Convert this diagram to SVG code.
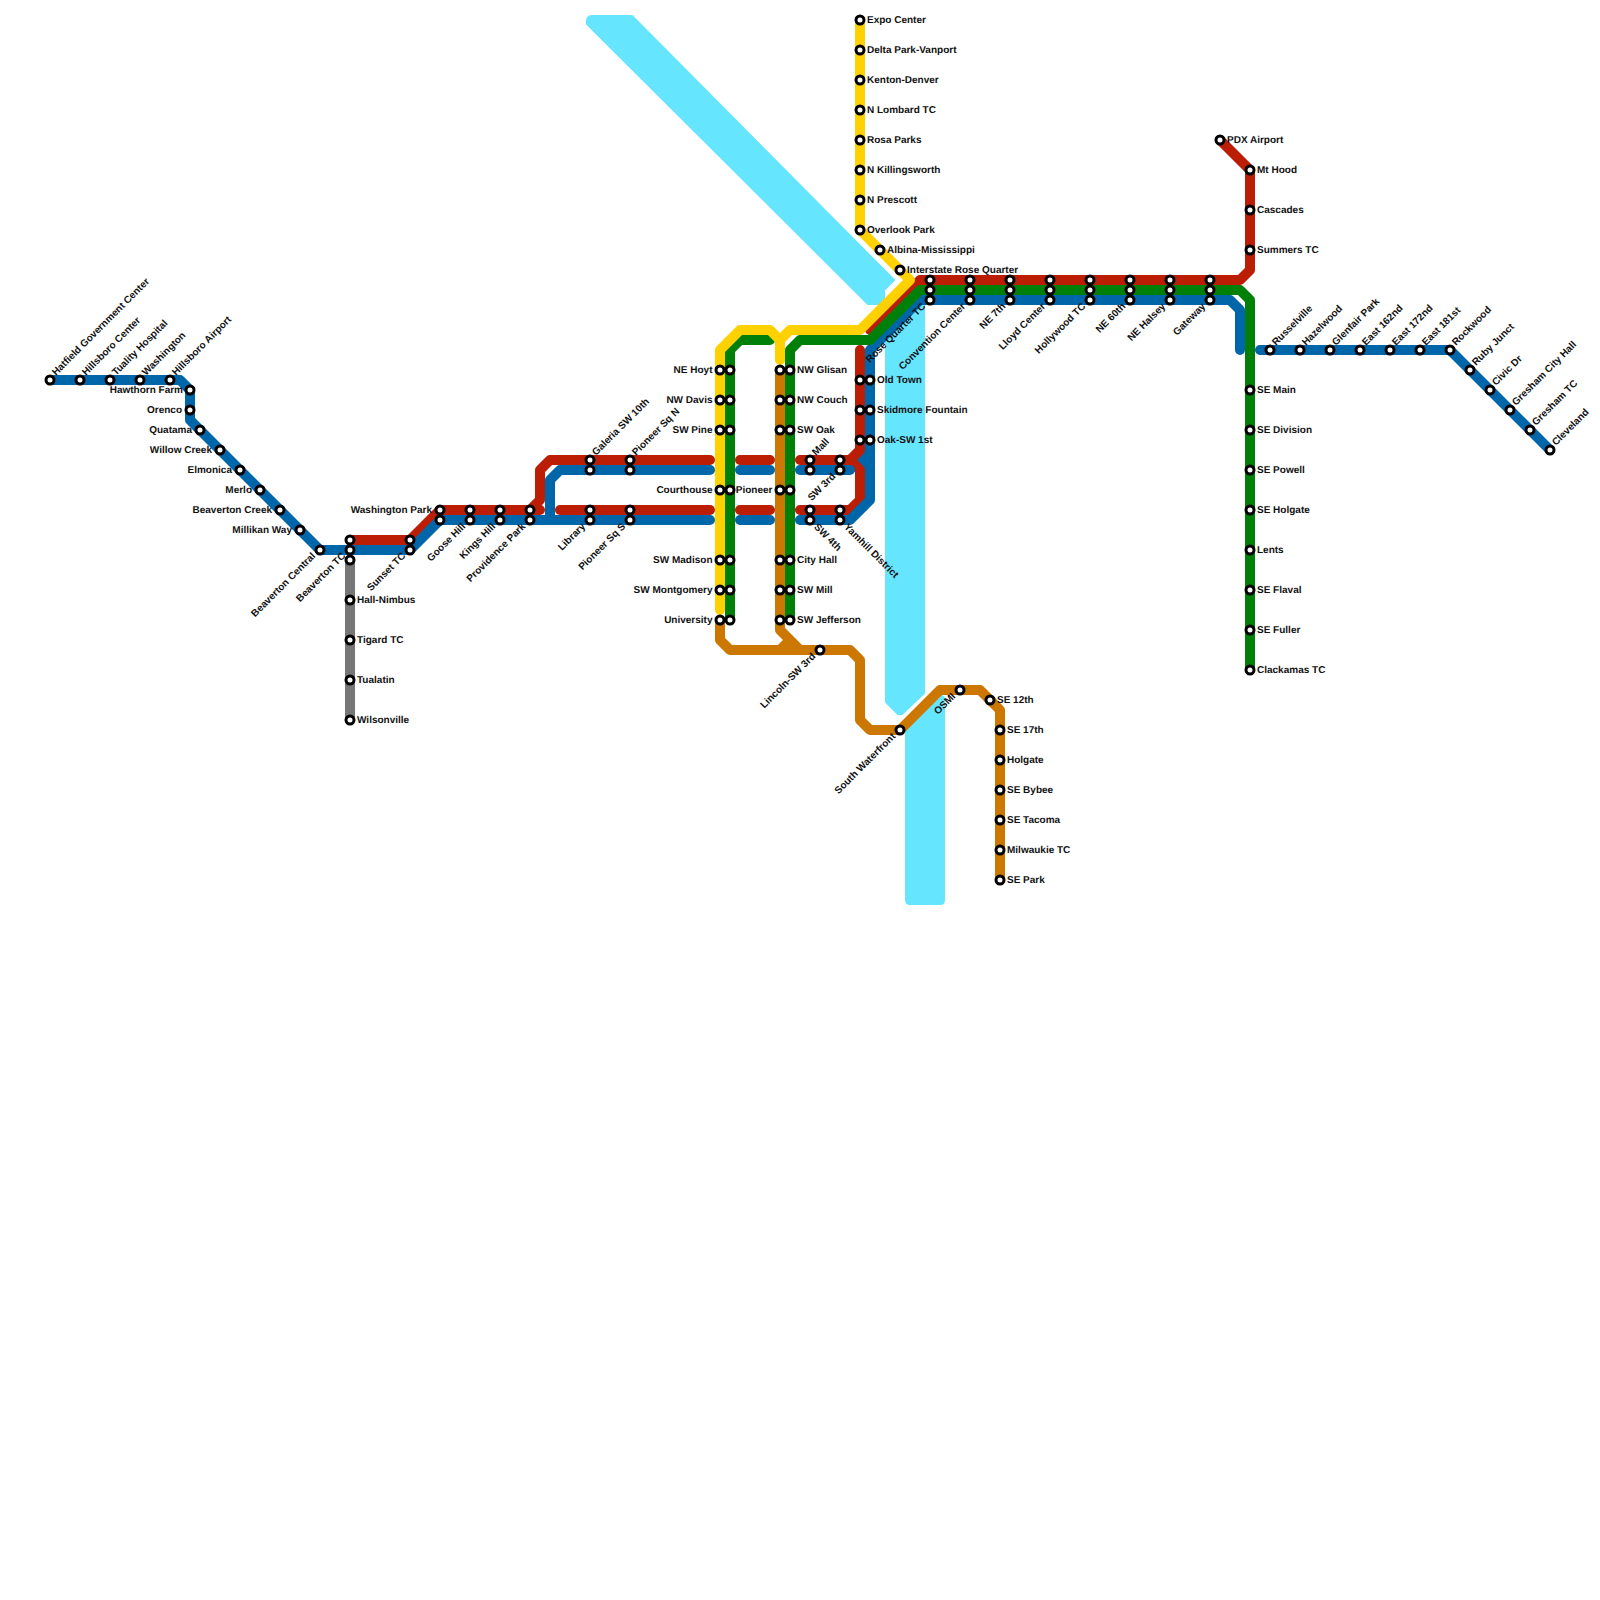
<svg xmlns="http://www.w3.org/2000/svg" width="1600" height="1600" viewBox="0 0 1600 1600">
<style>
.ln{fill:none;stroke-width:10;stroke-linecap:round;stroke-linejoin:round}
.red{stroke:#BB1E05}.blue{stroke:#0066AA}.green{stroke:#008009}.yellow{stroke:#FFD100}.orange{stroke:#CC7700}.gray{stroke:#777777}
.river{fill:#66E5FF;stroke:#66E5FF;stroke-width:2;stroke-linejoin:round}
circle{fill:#fff;stroke:#000;stroke-width:3}
text{font-family:"Liberation Sans",Arial,sans-serif;font-size:10px;font-weight:700;fill:#111;text-rendering:geometricPrecision}
.e{text-anchor:end}
</style>
<rect width="1600" height="1600" fill="#fff"/>
<g id="rivers">
<path class="river" d="M587,24 Q586,16 592,16 L632,16 L894,280 L884,290 L884,304 L868,304 Z"/>
<path class="river" d="M886,300 L924,300 L924,693 L902,714 L898,714 L886,702 Z"/>
<path class="river" d="M906,727 L938,696 L942,696 L944,698 L944,900 Q944,904 940,904 L910,904 Q906,904 906,900 Z"/>
</g>
<g id="connectors">
<path class="ln gray" d="M350,560V720"/>
<path class="ln red" d="M350,540H410L440,510H540"/>
<path class="ln red" d="M530,510L540,500V470L550,460H710"/>
<path class="ln red" d="M560,510H710"/>
<path class="ln red" d="M740,460H770M740,510H770"/>
<path class="ln blue" d="M870,450L860,460L870,470"/>
<path class="ln red" d="M800,460H850L860,450V350M850,460L860,470V500L850,510H800"/>
<path class="ln red" d="M870,330L920,280H1240L1250,270V170L1220,140"/>
<path class="ln blue" d="M50,380H180L190,390V420L320,550H410L440,520H710"/>
<path class="ln blue" d="M550,520V480L560,470H710"/>
<path class="ln blue" d="M740,470H770M740,520H770M800,470H850M800,520H850L870,500V350L920,300H1230L1240,310V350"/>
<path class="ln blue" d="M1260,350H1450L1550,450"/>
<path class="ln orange" d="M720,620V640L730,650H850L860,660V720L870,730H900L940,690H980L1000,710V880"/>
<path class="ln orange" d="M780,370V630L800,650M780,650L790,640"/>
<path class="ln green" d="M730,620V350L740,340H770"/>
<path class="ln green" d="M790,620V350L800,340H870L920,290H1240L1250,300V670"/>
<path class="ln yellow" d="M720,610V350L740,330H770L780,340V360M780,340L790,330H860L910,280L860,230V20"/>
</g>
<g id="nodes">
<g id="hatfield-government-center"><circle cx="50" cy="380" r="4"/><text transform="translate(56,376) rotate(-45)">Hatfield Government Center</text></g>
<g id="hillsboro-center"><circle cx="80" cy="380" r="4"/><text transform="translate(86,376) rotate(-45)">Hillsboro Center</text></g>
<g id="tuality-hospital"><circle cx="110" cy="380" r="4"/><text transform="translate(116,376) rotate(-45)">Tuality Hospital</text></g>
<g id="washington"><circle cx="140" cy="380" r="4"/><text transform="translate(146,376) rotate(-45)">Washington</text></g>
<g id="hillsboro-airport"><circle cx="170" cy="380" r="4"/><text transform="translate(176,376) rotate(-45)">Hillsboro Airport</text></g>
<g id="hawthorn-farm"><circle cx="190" cy="390" r="4"/><text class="e" x="183" y="393">Hawthorn Farm</text></g>
<g id="orenco"><circle cx="190" cy="410" r="4"/><text class="e" x="182" y="413">Orenco</text></g>
<g id="quatama"><circle cx="200" cy="430" r="4"/><text class="e" x="192" y="433">Quatama</text></g>
<g id="willow-creek"><circle cx="220" cy="450" r="4"/><text class="e" x="212" y="453">Willow Creek</text></g>
<g id="elmonica"><circle cx="240" cy="470" r="4"/><text class="e" x="232" y="473">Elmonica</text></g>
<g id="merlo"><circle cx="260" cy="490" r="4"/><text class="e" x="252" y="493">Merlo</text></g>
<g id="beaverton-creek"><circle cx="280" cy="510" r="4"/><text class="e" x="272" y="513">Beaverton Creek</text></g>
<g id="millikan-way"><circle cx="300" cy="530" r="4"/><text class="e" x="292" y="533">Millikan Way</text></g>
<g id="beaverton-central"><circle cx="320" cy="550" r="4"/><text class="e" transform="translate(316,556.5) rotate(-45)">Beaverton Central</text></g>
<g id="beaverton-tc"><circle cx="350" cy="540" r="4"/><circle cx="350" cy="550" r="4"/><circle cx="350" cy="560" r="4"/><text class="e" transform="translate(346,556.5) rotate(-45)">Beaverton TC</text></g>
<g id="hall-nimbus"><circle cx="350" cy="600" r="4"/><text x="357" y="603">Hall-Nimbus</text></g>
<g id="tigard-tc"><circle cx="350" cy="640" r="4"/><text x="357" y="643">Tigard TC</text></g>
<g id="tualatin"><circle cx="350" cy="680" r="4"/><text x="357" y="683">Tualatin</text></g>
<g id="wilsonville"><circle cx="350" cy="720" r="4"/><text x="357" y="723">Wilsonville</text></g>
<g id="sunset-tc"><circle cx="410" cy="540" r="4"/><circle cx="410" cy="550" r="4"/><text class="e" transform="translate(406,556.5) rotate(-45)">Sunset TC</text></g>
<g id="washington-park"><circle cx="440" cy="510" r="4"/><circle cx="440" cy="520" r="4"/><text class="e" x="432" y="513">Washington Park</text></g>
<g id="goose-hill"><circle cx="470" cy="510" r="4"/><circle cx="470" cy="520" r="4"/><text class="e" transform="translate(466,527) rotate(-45)">Goose Hill</text></g>
<g id="kings-hill"><circle cx="500" cy="510" r="4"/><circle cx="500" cy="520" r="4"/><text class="e" transform="translate(496,527) rotate(-45)">Kings Hill</text></g>
<g id="providence-park"><circle cx="530" cy="510" r="4"/><circle cx="530" cy="520" r="4"/><text class="e" transform="translate(526,527) rotate(-45)">Providence Park</text></g>
<g id="library"><circle cx="590" cy="510" r="4"/><circle cx="590" cy="520" r="4"/><text class="e" transform="translate(586,527) rotate(-45)">Library</text></g>
<g id="pioneer-sq-s"><circle cx="630" cy="510" r="4"/><circle cx="630" cy="520" r="4"/><text class="e" transform="translate(626,527) rotate(-45)">Pioneer Sq S</text></g>
<g id="galeria-sw-10th"><circle cx="590" cy="460" r="4"/><circle cx="590" cy="470" r="4"/><text transform="translate(596,456) rotate(-45)">Galeria SW 10th</text></g>
<g id="pioneer-sq-n"><circle cx="630" cy="460" r="4"/><circle cx="630" cy="470" r="4"/><text transform="translate(636,456) rotate(-45)">Pioneer Sq N</text></g>
<g id="ne-hoyt"><circle cx="720" cy="370" r="4"/><circle cx="730" cy="370" r="4"/><text class="e" x="712.5" y="373">NE Hoyt</text></g>
<g id="nw-davis"><circle cx="720" cy="400" r="4"/><circle cx="730" cy="400" r="4"/><text class="e" x="712.5" y="403">NW Davis</text></g>
<g id="sw-pine"><circle cx="720" cy="430" r="4"/><circle cx="730" cy="430" r="4"/><text class="e" x="712.5" y="433">SW Pine</text></g>
<g id="courthouse"><circle cx="720" cy="490" r="4"/><circle cx="730" cy="490" r="4"/><text class="e" x="712.5" y="493">Courthouse</text></g>
<g id="sw-madison"><circle cx="720" cy="560" r="4"/><circle cx="730" cy="560" r="4"/><text class="e" x="712.5" y="563">SW Madison</text></g>
<g id="sw-montgomery"><circle cx="720" cy="590" r="4"/><circle cx="730" cy="590" r="4"/><text class="e" x="712.5" y="593">SW Montgomery</text></g>
<g id="university"><circle cx="720" cy="620" r="4"/><circle cx="730" cy="620" r="4"/><text class="e" x="712.5" y="623">University</text></g>
<g id="nw-glisan"><circle cx="780" cy="370" r="4"/><circle cx="790" cy="370" r="4"/><text x="797" y="373">NW Glisan</text></g>
<g id="nw-couch"><circle cx="780" cy="400" r="4"/><circle cx="790" cy="400" r="4"/><text x="797" y="403">NW Couch</text></g>
<g id="sw-oak"><circle cx="780" cy="430" r="4"/><circle cx="790" cy="430" r="4"/><text x="797" y="433">SW Oak</text></g>
<g id="pioneer"><circle cx="780" cy="490" r="4"/><circle cx="790" cy="490" r="4"/><text class="e" x="772.5" y="493">Pioneer</text></g>
<g id="city-hall"><circle cx="780" cy="560" r="4"/><circle cx="790" cy="560" r="4"/><text x="797" y="563">City Hall</text></g>
<g id="sw-mill"><circle cx="780" cy="590" r="4"/><circle cx="790" cy="590" r="4"/><text x="797" y="593">SW Mill</text></g>
<g id="sw-jefferson"><circle cx="780" cy="620" r="4"/><circle cx="790" cy="620" r="4"/><text x="797" y="623">SW Jefferson</text></g>
<g id="lincoln-sw-3rd"><circle cx="820" cy="650" r="4"/><text class="e" transform="translate(816,657) rotate(-45)">Lincoln-SW 3rd</text></g>
<g id="mall"><circle cx="810" cy="460" r="4"/><circle cx="810" cy="470" r="4"/><text transform="translate(816,456) rotate(-45)">Mall</text></g>
<g id="sw-3rd"><circle cx="840" cy="460" r="4"/><circle cx="840" cy="470" r="4"/><text class="e" transform="translate(836,477) rotate(-45)">SW 3rd</text></g>
<g id="sw-4th"><circle cx="810" cy="510" r="4"/><circle cx="810" cy="520" r="4"/><text transform="translate(813.5,527.5) rotate(45)">SW 4th</text></g>
<g id="yamhill-district"><circle cx="840" cy="510" r="4"/><circle cx="840" cy="520" r="4"/><text transform="translate(843.5,527.5) rotate(45)">Yamhill District</text></g>
<g id="old-town"><circle cx="860" cy="380" r="4"/><circle cx="870" cy="380" r="4"/><text x="877" y="383">Old Town</text></g>
<g id="skidmore-fountain"><circle cx="860" cy="410" r="4"/><circle cx="870" cy="410" r="4"/><text x="877" y="413">Skidmore Fountain</text></g>
<g id="oak-sw-1st"><circle cx="860" cy="440" r="4"/><circle cx="870" cy="440" r="4"/><text x="877" y="443">Oak-SW 1st</text></g>
<g id="expo-center"><circle cx="860" cy="20" r="4"/><text x="867" y="23">Expo Center</text></g>
<g id="delta-park-vanport"><circle cx="860" cy="50" r="4"/><text x="867" y="53">Delta Park-Vanport</text></g>
<g id="kenton-denver"><circle cx="860" cy="80" r="4"/><text x="867" y="83">Kenton-Denver</text></g>
<g id="n-lombard-tc"><circle cx="860" cy="110" r="4"/><text x="867" y="113">N Lombard TC</text></g>
<g id="rosa-parks"><circle cx="860" cy="140" r="4"/><text x="867" y="143">Rosa Parks</text></g>
<g id="n-killingsworth"><circle cx="860" cy="170" r="4"/><text x="867" y="173">N Killingsworth</text></g>
<g id="n-prescott"><circle cx="860" cy="200" r="4"/><text x="867" y="203">N Prescott</text></g>
<g id="overlook-park"><circle cx="860" cy="230" r="4"/><text x="867" y="233">Overlook Park</text></g>
<g id="albina-mississippi"><circle cx="880" cy="250" r="4"/><text x="887" y="253">Albina-Mississippi</text></g>
<g id="interstate-rose-quarter"><circle cx="900" cy="270" r="4"/><text x="907" y="273">Interstate Rose Quarter</text></g>
<g id="rose-quarter-tc"><circle cx="930" cy="280" r="4"/><circle cx="930" cy="290" r="4"/><circle cx="930" cy="300" r="4"/><text class="e" transform="translate(926,307) rotate(-45)">Rose Quarter TC</text></g>
<g id="convention-center"><circle cx="970" cy="280" r="4"/><circle cx="970" cy="290" r="4"/><circle cx="970" cy="300" r="4"/><text class="e" transform="translate(966,307) rotate(-45)">Convention Center</text></g>
<g id="ne-7th"><circle cx="1010" cy="280" r="4"/><circle cx="1010" cy="290" r="4"/><circle cx="1010" cy="300" r="4"/><text class="e" transform="translate(1006,307) rotate(-45)">NE 7th</text></g>
<g id="lloyd-center"><circle cx="1050" cy="280" r="4"/><circle cx="1050" cy="290" r="4"/><circle cx="1050" cy="300" r="4"/><text class="e" transform="translate(1046,307) rotate(-45)">Lloyd Center</text></g>
<g id="hollywood-tc"><circle cx="1090" cy="280" r="4"/><circle cx="1090" cy="290" r="4"/><circle cx="1090" cy="300" r="4"/><text class="e" transform="translate(1086,307) rotate(-45)">Hollywood TC</text></g>
<g id="ne-60th"><circle cx="1130" cy="280" r="4"/><circle cx="1130" cy="290" r="4"/><circle cx="1130" cy="300" r="4"/><text class="e" transform="translate(1126,307) rotate(-45)">NE 60th</text></g>
<g id="ne-halsey"><circle cx="1170" cy="280" r="4"/><circle cx="1170" cy="290" r="4"/><circle cx="1170" cy="300" r="4"/><text class="e" transform="translate(1166,307) rotate(-45)">NE Halsey</text></g>
<g id="gateway"><circle cx="1210" cy="280" r="4"/><circle cx="1210" cy="290" r="4"/><circle cx="1210" cy="300" r="4"/><text class="e" transform="translate(1206,307) rotate(-45)">Gateway</text></g>
<g id="pdx-airport"><circle cx="1220" cy="140" r="4"/><text x="1227" y="143">PDX Airport</text></g>
<g id="mt-hood"><circle cx="1250" cy="170" r="4"/><text x="1257" y="173">Mt Hood</text></g>
<g id="cascades"><circle cx="1250" cy="210" r="4"/><text x="1257" y="213">Cascades</text></g>
<g id="summers-tc"><circle cx="1250" cy="250" r="4"/><text x="1257" y="253">Summers TC</text></g>
<g id="se-main"><circle cx="1250" cy="390" r="4"/><text x="1257" y="393">SE Main</text></g>
<g id="se-division"><circle cx="1250" cy="430" r="4"/><text x="1257" y="433">SE Division</text></g>
<g id="se-powell"><circle cx="1250" cy="470" r="4"/><text x="1257" y="473">SE Powell</text></g>
<g id="se-holgate"><circle cx="1250" cy="510" r="4"/><text x="1257" y="513">SE Holgate</text></g>
<g id="lents"><circle cx="1250" cy="550" r="4"/><text x="1257" y="553">Lents</text></g>
<g id="se-flaval"><circle cx="1250" cy="590" r="4"/><text x="1257" y="593">SE Flaval</text></g>
<g id="se-fuller"><circle cx="1250" cy="630" r="4"/><text x="1257" y="633">SE Fuller</text></g>
<g id="clackamas-tc"><circle cx="1250" cy="670" r="4"/><text x="1257" y="673">Clackamas TC</text></g>
<g id="russelville"><circle cx="1270" cy="350" r="4"/><text transform="translate(1276,346) rotate(-45)">Russelville</text></g>
<g id="hazelwood"><circle cx="1300" cy="350" r="4"/><text transform="translate(1306,346) rotate(-45)">Hazelwood</text></g>
<g id="glenfair-park"><circle cx="1330" cy="350" r="4"/><text transform="translate(1336,346) rotate(-45)">Glenfair Park</text></g>
<g id="east-162nd"><circle cx="1360" cy="350" r="4"/><text transform="translate(1366,346) rotate(-45)">East 162nd</text></g>
<g id="east-172nd"><circle cx="1390" cy="350" r="4"/><text transform="translate(1396,346) rotate(-45)">East 172nd</text></g>
<g id="east-181st"><circle cx="1420" cy="350" r="4"/><text transform="translate(1426,346) rotate(-45)">East 181st</text></g>
<g id="rockwood"><circle cx="1450" cy="350" r="4"/><text transform="translate(1456,346) rotate(-45)">Rockwood</text></g>
<g id="ruby-junct"><circle cx="1470" cy="370" r="4"/><text transform="translate(1476,366) rotate(-45)">Ruby Junct</text></g>
<g id="civic-dr"><circle cx="1490" cy="390" r="4"/><text transform="translate(1496,386) rotate(-45)">Civic Dr</text></g>
<g id="gresham-city-hall"><circle cx="1510" cy="410" r="4"/><text transform="translate(1516,406) rotate(-45)">Gresham City Hall</text></g>
<g id="gresham-tc"><circle cx="1530" cy="430" r="4"/><text transform="translate(1536,426) rotate(-45)">Gresham TC</text></g>
<g id="cleveland"><circle cx="1550" cy="450" r="4"/><text transform="translate(1556,446) rotate(-45)">Cleveland</text></g>
<g id="south-waterfront"><circle cx="900" cy="730" r="4"/><text class="e" transform="translate(896,737) rotate(-45)">South Waterfront</text></g>
<g id="osmi"><circle cx="960" cy="690" r="4"/><text class="e" transform="translate(956,697) rotate(-45)">OSMI</text></g>
<g id="se-12th"><circle cx="990" cy="700" r="4"/><text x="997" y="703">SE 12th</text></g>
<g id="se-17th"><circle cx="1000" cy="730" r="4"/><text x="1007" y="733">SE 17th</text></g>
<g id="holgate"><circle cx="1000" cy="760" r="4"/><text x="1007" y="763">Holgate</text></g>
<g id="se-bybee"><circle cx="1000" cy="790" r="4"/><text x="1007" y="793">SE Bybee</text></g>
<g id="se-tacoma"><circle cx="1000" cy="820" r="4"/><text x="1007" y="823">SE Tacoma</text></g>
<g id="milwaukie-tc"><circle cx="1000" cy="850" r="4"/><text x="1007" y="853">Milwaukie TC</text></g>
<g id="se-park"><circle cx="1000" cy="880" r="4"/><text x="1007" y="883">SE Park</text></g>
</g>
</svg>
